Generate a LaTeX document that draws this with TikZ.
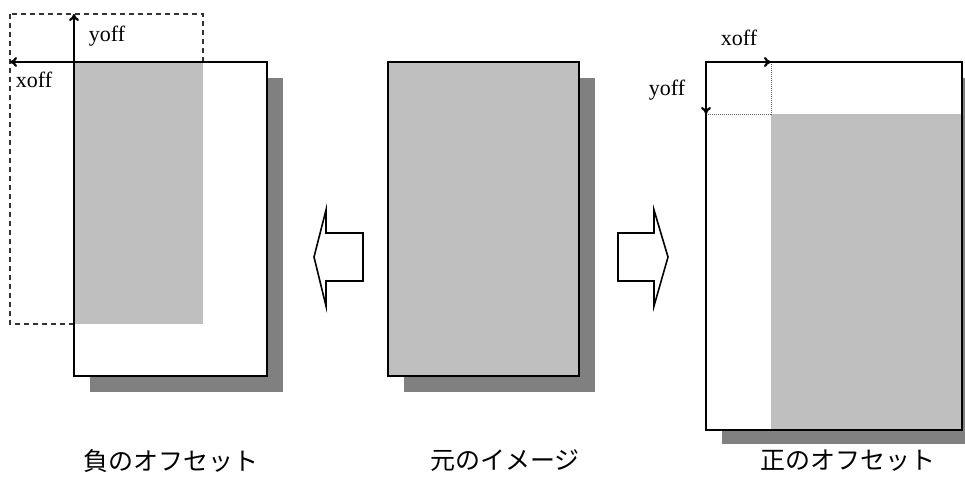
\documentclass[tikz,border=0pt]{standalone}
\usepackage{fontspec}
\setmainfont{Liberation Serif}
\newfontfamily\jpfont{Noto Sans CJK JP}
\usetikzlibrary{arrows.meta}

\begin{document}
\begin{tikzpicture}[x=1pt, y=-1pt,
  shadow/.style={fill=black!50},
  sheet/.style={draw, line width=2.2pt},
  content/.style={fill=black!25},
  offarrow/.style={line width=2.2pt, -{To[length=7pt,width=10pt]}},
  bigarrow/.style={draw, fill=white, line width=1.6pt, line join=miter},
  caption/.style={font=\jpfont\fontsize{25}{25}\selectfont},
  offlabel/.style={font=\fontsize{22}{22}\selectfont}]
  \useasboundingbox (0,0) rectangle (965,477);

  % negative offset
  \draw [black!80, line width=1.2pt, dash pattern=on 5pt off 4pt] (10,14) rectangle (203,324);
  \fill [shadow] (90,78) rectangle (283,392);
  \fill [white] (74,62) rectangle (267,376);
  \fill [content] (74,62) rectangle (203,324);
  \draw [sheet] (74,62) rectangle (267,376);
  \coordinate (LO) at (74,62);
  \coordinate (LX) at (10,62);
  \coordinate (LY) at (74,14);
  \draw [offarrow] (LO) -- (LY);
  \draw [offarrow] (LO) -- (LX);
  \node [offlabel] (Lyoff) at (107,36) {yoff};
  \node [offlabel] (Lxoff) at (34,80) {xoff};

  % original
  \fill [shadow] (404,78) rectangle (595,392);
  \draw [sheet, content] (388,62) rectangle (579,376);

  % positive offset
  \fill [shadow] (722,78) rectangle (965,444);
  \fill [white] (706,62) rectangle (962,430);
  \fill [content] (771,114) rectangle (962,430);
  \draw [black!60, line width=1pt, densely dotted] (706,114) -- (771,114) -- (771,62);
  \draw [sheet] (706,62) rectangle (962,430);
  \coordinate (RO) at (706,62);
  \coordinate (RX) at (771,62);
  \coordinate (RY) at (706,114);
  \draw [offarrow] (RO) -- (RX);
  \draw [offarrow] (RO) -- (RY);
  \node [offlabel] (Rxoff) at (739,38) {xoff};
  \node [offlabel] (Ryoff) at (667,90) {yoff};

  % block arrows
  \draw [bigarrow] (363,233) -- (326,233) -- (326,210) -- (314,257)
    -- (326,306) -- (326,281) -- (363,281) -- cycle;
  \draw [bigarrow] (618,233) -- (654,233) -- (654,210) -- (668,257)
    -- (654,306) -- (654,281) -- (618,281) -- cycle;

  % captions
  \node [caption] (Lcap) at (171,461) {負のオフセット};
  \node [caption] (Mcap) at (505,461) {元のイメージ};
  \node [caption] (Rcap) at (848,461) {正のオフセット};
\end{tikzpicture}
\end{document}
